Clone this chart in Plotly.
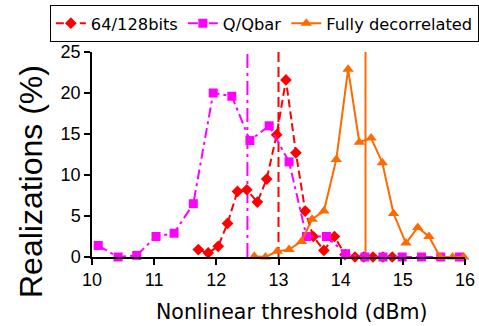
import plotly.graph_objects as go

# ---- data ----
red_x = [11.71, 11.87, 12.03, 12.18, 12.34, 12.49, 12.66, 12.81, 12.97, 13.12, 13.28,
         13.43, 13.56, 13.73, 13.90, 14.07, 14.23, 14.37, 14.52, 14.68, 14.83]
red_y = [0.9, 0.5, 1.3, 4.1, 8.0, 8.2, 6.7, 9.5, 14.9, 21.6, 12.7,
         5.6, 2.5, 0.8, 2.5, 0.3, 0.0, 0.0, 0.0, 0.0, 0.0]

mag_x = [10.10, 10.42, 10.72, 11.03, 11.32, 11.63, 11.95, 12.25, 12.54, 12.85,
         13.17, 13.45, 13.77, 14.08, 14.39, 14.68, 14.99, 15.30, 15.61, 15.91]
mag_y = [1.4, 0.0, 0.2, 2.5, 2.9, 6.5, 20.0, 19.6, 14.2, 16.0,
         11.6, 2.5, 2.5, 0.4, 0.0, 0.0, 0.0, 0.0, 0.0, 0.0]

org_x = [12.61, 12.79, 12.98, 13.17, 13.37, 13.54, 13.73, 13.93, 14.12, 14.30,
         14.49, 14.67, 14.85, 15.05, 15.24, 15.42, 15.60, 15.80, 15.98]
org_y = [0.1, 0.0, 0.7, 0.9, 1.9, 4.6, 5.6, 11.9, 22.9, 14.0,
         14.5, 11.5, 5.3, 1.7, 3.6, 2.5, 0.0, 0.0, 0.0]

series_names = ["64/128bits", "Q/Qbar", "Fully decorrelated"]
mean_x = [13.0, 12.5, 14.4]          # vertical mean lines (red, magenta, orange)

x_ticks = [10, 11, 12, 13, 14, 15, 16]
y_ticks = [0, 5, 10, 15, 20, 25]
y_range = [0, 25]

RED, MAG, ORG = "#ff0000", "#ff00ff", "#ff6a00"

fig = go.Figure()

# mean lines (drawn first, behind)
for mx, col, dash in zip(mean_x, [RED, MAG, ORG], ["10px,5px", "14px,5px,3px,5px", "solid"]):
    fig.add_trace(go.Scatter(x=[mx, mx], y=y_range, mode="lines",
                             line=dict(color=col, width=2, dash=dash),
                             showlegend=False, hoverinfo="skip", cliponaxis=False))

fig.add_trace(go.Scatter(x=red_x, y=red_y, name=series_names[0], mode="lines+markers",
                         line=dict(color=RED, width=2, dash="8px,4px"),
                         marker=dict(symbol="diamond", size=9, color=RED),
                         cliponaxis=False))
fig.add_trace(go.Scatter(x=mag_x, y=mag_y, name=series_names[1], mode="lines+markers",
                         line=dict(color=MAG, width=2, dash="10px,4px,3px,4px"),
                         marker=dict(symbol="square", size=9, color=MAG),
                         cliponaxis=False))
fig.add_trace(go.Scatter(x=org_x, y=org_y, name=series_names[2], mode="lines+markers",
                         line=dict(color=ORG, width=2),
                         marker=dict(symbol="triangle-up", size=10, color=ORG),
                         cliponaxis=False))

fig.update_layout(
    width=479, height=326,
    margin=dict(l=92, r=14, t=52, b=69, autoexpand=False),
    paper_bgcolor="white", plot_bgcolor="white",
    font=dict(family="Liberation Sans, Arial, sans-serif", color="black", size=17),
    showlegend=True,
    legend=dict(orientation="h", x=-0.113, y=1.229, xanchor="left", yanchor="top",
                bordercolor="black", borderwidth=1,
                font=dict(family="DejaVu Sans", size=16.3, color="black"),
                itemwidth=30, tracegroupgap=0, bgcolor="white"),
    xaxis=dict(range=[10, 16], tickvals=x_ticks, ticktext=[str(v) for v in x_ticks],
               showgrid=False, zeroline=False, showline=True, linecolor="black", linewidth=1.5,
               ticks="outside", ticklen=6, tickwidth=1.5, tickcolor="black",
               tickfont=dict(size=18)),
    yaxis=dict(range=y_range, tickvals=y_ticks, ticktext=[str(v) for v in y_ticks],
               showgrid=False, zeroline=False, showline=True, linecolor="black", linewidth=1.5,
               ticks="outside", ticklen=6, tickwidth=1.5, tickcolor="black",
               tickfont=dict(size=18)),
    annotations=[
        dict(text="Realizations (%)", textangle=-90, x=-0.1635, y=0.366,
             xref="paper", yref="paper", xanchor="center", yanchor="middle",
             showarrow=False, font=dict(size=32, family="Liberation Sans")),
        dict(text="Nonlinear threshold (dBm)", x=0.535, y=-0.268,
             xref="paper", yref="paper", xanchor="center", yanchor="middle",
             showarrow=False, font=dict(size=20.5, family="DejaVu Sans")),
    ],
)

fig.write_html("out.html", config={"displayModeBar": False},
               post_script="document.body.style.margin='0';document.body.style.overflow='hidden';")
